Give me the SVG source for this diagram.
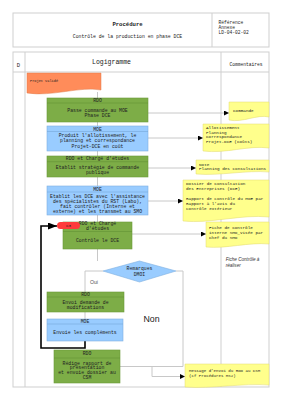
<svg xmlns="http://www.w3.org/2000/svg" width="283" height="400" viewBox="0 0 283 400">
<style>
.grid{fill:none;stroke:#cfcfcf;stroke-width:1}
.mono{font-family:"Liberation Mono","DejaVu Sans Mono",monospace;fill:#222}
.bt{font-size:4.8px;text-anchor:middle}
.ct{font-size:4.3px}
.g{fill:#7dad47;stroke:#6b9a3a;stroke-width:0.6}
.b{fill:#99ccff;stroke:#7fb0e0;stroke-width:0.6}
.sepg{stroke:#5f8c32;stroke-width:0.5}
.sepb{stroke:#6fa0d0;stroke-width:0.5}
.y{fill:#ffff8c;stroke:#e0d870;stroke-width:0.5}
.con{fill:none;stroke:#c8c8c8;stroke-width:1}
.loop{fill:none;stroke:#000;stroke-width:1.6}
.sans{font-family:"Liberation Sans",Arial,sans-serif}
</style>
<defs>
<marker id="ah" markerUnits="userSpaceOnUse" markerWidth="6" markerHeight="5" refX="5" refY="2.5" orient="auto"><path d="M0,0 L5,2.5 L0,5 Z" fill="#000"/></marker>
<marker id="ahb" markerUnits="userSpaceOnUse" markerWidth="10" markerHeight="7" refX="9" refY="3.5" orient="auto"><path d="M0,0 L9,3.5 L0,7 Z" fill="#000"/></marker>
</defs>
<rect width="283" height="400" fill="#fff"/>
<g id="header">
<rect class="grid" x="13" y="13" width="256" height="34"/>
<line class="grid" x1="212" y1="13" x2="212" y2="47"/>
<text class="mono" x="127.5" y="26" font-size="5.6" font-weight="bold" text-anchor="middle">Procédure</text>
<text class="mono" x="127.5" y="38" font-size="4.8" text-anchor="middle">Contrôle de la production en phase DCE</text>
<text class="mono" x="218.5" y="23.5" font-size="4.6">Référence</text>
<text class="mono" x="218.5" y="28.5" font-size="4.6">Annexe</text>
<text class="mono" x="218.5" y="33.5" font-size="4.6">LD-04-02-02</text>
</g>
<g id="table">
<rect class="grid" x="13" y="52" width="256" height="335"/>
<line class="grid" x1="25" y1="52" x2="25" y2="387"/>
<line class="grid" x1="221" y1="52" x2="221" y2="387"/>
<line class="grid" x1="13" y1="72" x2="269" y2="72"/>
<text class="mono" x="18.3" y="67" font-size="5.5" text-anchor="middle">D</text>
<text class="mono" x="111.5" y="64" font-size="6.5" text-anchor="middle">Logigramme</text>
<text class="mono" x="246" y="66" font-size="4.6" text-anchor="middle">Commentaires</text>
</g>
<g id="connectors">
<path class="con" d="M97.5,92 V98"/>
<path class="con" d="M97.5,122 V126"/>
<path class="con" d="M97.5,151 V156"/>
<path class="con" d="M97.5,177 V186"/>
<path class="con" d="M97.5,215 V222"/>
<path class="con" d="M97.5,249 V261"/>
<path class="con" d="M103,271 H85 V292"/>
<path class="con" d="M85,312 V319"/>
<path class="con" d="M176,271 H183 V366.5 H120"/>
<path class="con" d="M148,113 H229" marker-end="url(#ah)"/>
<path class="con" d="M148,138 H203" marker-end="url(#ah)"/>
<path class="con" d="M148,168 H196" marker-end="url(#ah)"/>
<path class="con" d="M148,201 H183" marker-end="url(#ah)"/>
<path class="con" d="M132,234 H206" marker-end="url(#ah)"/>
<path class="con" d="M120,366.5 H152 V376.5 H185" marker-end="url(#ah)"/>
<path class="loop" d="M85,341 V348 H41 V226 H57" marker-end="url(#ahb)"/>
<text class="sans" x="94" y="284" font-size="5.2" fill="#555" text-anchor="middle">Oui</text>
<text class="sans" x="151.5" y="322" font-size="8.8" fill="#222" text-anchor="middle">Non</text>
</g>
<g id="start">
<path d="M27,73 H101 V90 C80,86 52,97 27,93 Z" fill="#ff8c5a" stroke="#e07a48" stroke-width="0.5"/>
<text class="mono" x="30" y="82" font-size="3.6">Projet Validé</text>
</g>
<g id="n1">
<rect class="g" x="47" y="98" width="101" height="24"/>
<line class="sepg" x1="47" y1="103" x2="148" y2="103"/>
<text class="mono bt" x="97.5" y="102" font-size="4">RDO</text>
<text class="mono bt" x="97.5" y="111.5">Passe commande au MOE</text>
<text class="mono bt" x="97.5" y="117">Phase DCE</text>
</g>
<g id="n2">
<rect class="b" x="47" y="126" width="101" height="25"/>
<line class="sepb" x1="47" y1="131.5" x2="148" y2="131.5"/>
<text class="mono bt" x="97.5" y="130.5">MOE</text>
<text class="mono bt" x="97.5" y="136.5">Produit l'allotissement, le</text>
<text class="mono bt" x="97.5" y="142">planning et correspondance</text>
<text class="mono bt" x="97.5" y="147.5">Projet-DCE en coût</text>
</g>
<g id="n3">
<rect class="g" x="47" y="156" width="101" height="21"/>
<line class="sepg" x1="47" y1="161.7" x2="148" y2="161.7"/>
<text class="mono bt" x="97.5" y="160.3">RDO et Chargé d'études</text>
<text class="mono bt" x="97.5" y="169">Etablit stratégie de commande</text>
<text class="mono bt" x="97.5" y="174.3">publique</text>
</g>
<g id="n4">
<rect class="b" x="47" y="186" width="101" height="29"/>
<line class="sepb" x1="47" y1="192" x2="148" y2="192"/>
<text class="mono bt" x="97.5" y="190.8">MOE</text>
<text class="mono bt" x="97.5" y="197.5">Etablit les DCE avec l'assistance</text>
<text class="mono bt" x="97.5" y="202.5">des spécialistes du RST (Labo),</text>
<text class="mono bt" x="97.5" y="207.8">fait contrôler (Interne et</text>
<text class="mono bt" x="97.5" y="213.3">externe) et les transmet au SMO</text>
</g>
<g id="n5">
<rect class="g" x="63" y="222" width="69" height="27"/>
<line class="sepg" x1="63" y1="231.5" x2="132" y2="231.5"/>
<text class="mono bt" x="97.5" y="225">RDO et Chargé</text>
<text class="mono bt" x="97.5" y="230.3">d'études</text>
<text class="mono bt" x="97.5" y="242">Contrôle le DCE</text>
</g>
<g id="c3">
<rect x="57" y="222" width="23" height="7" rx="3.5" fill="#ff3b3b"/>
<text class="mono" x="68.5" y="227.2" font-size="4.2" text-anchor="middle" fill="#400">C3</text>
</g>
<g id="decision">
<polygon points="103,271 139.5,261 176,271 139.5,282" fill="#99ccff" stroke="#7fb0e0" stroke-width="0.6"/>
<text class="mono bt" x="139.5" y="269.5">Remarques</text>
<text class="mono bt" x="139.5" y="275.5">DMOI</text>
</g>
<g id="n6">
<rect class="g" x="47" y="292" width="77" height="20"/>
<line class="sepg" x1="47" y1="297" x2="124" y2="297"/>
<text class="mono bt" x="85.5" y="295.5" font-size="4">RDO</text>
<text class="mono bt" x="85.5" y="303.5">Envoi demande de</text>
<text class="mono bt" x="85.5" y="308.7">modifications</text>
</g>
<g id="n7">
<rect class="b" x="47" y="319" width="76" height="22"/>
<line class="sepb" x1="47" y1="324" x2="123" y2="324"/>
<text class="mono bt" x="85" y="322.8" font-size="4">MOE</text>
<text class="mono bt" x="85" y="334">Envoie les compléments</text>
</g>
<g id="n8">
<rect class="g" x="54" y="350" width="66" height="33"/>
<line class="sepg" x1="54" y1="358" x2="120" y2="358"/>
<text class="mono bt" x="87" y="355" font-size="4">RDO</text>
<text class="mono bt" x="87" y="364.8">Rédige rapport de</text>
<text class="mono bt" x="87" y="369.4">présentation</text>
<text class="mono bt" x="87" y="374.2">et envoie dossier au</text>
<text class="mono bt" x="87" y="379.2">CSM</text>
</g>
<g id="k1">
<path class="y" d="M229,102 H269 V117 C257,114 243,123 229,120 Z"/>
<text class="mono ct" x="233" y="112.2">Commande</text>
</g>
<g id="k2">
<path class="y" d="M203,124 H269 V148 C248,145 226,154 203,151 Z"/>
<text class="mono ct" x="206" y="129.2">Allotissement</text>
<text class="mono ct" x="206" y="133.8">Planning</text>
<text class="mono ct" x="206" y="138.4">Correspondance</text>
<text class="mono ct" x="206" y="143">Projet-DCE (Coûts)</text>
</g>
<g id="k3">
<path class="y" d="M196,160 H269 V172 C246,170 220,176 196,174 Z"/>
<text class="mono ct" x="199" y="165.5">Note</text>
<text class="mono ct" x="199" y="170">Planning des consultations</text>
</g>
<g id="k4">
<path class="y" d="M183,180 H269 V217 C242,214 210,224 183,221 Z"/>
<text class="mono ct" x="186" y="185.4">Dossier de Consultation</text>
<text class="mono ct" x="186" y="190.2">des Entreprises (DCE)</text>
<text class="mono ct" x="186" y="200.4">Rapport de contrôle du MOE par</text>
<text class="mono ct" x="186" y="205.2">Rapport à l'avis du</text>
<text class="mono ct" x="186" y="210">contrôle extérieur</text>
</g>
<g id="k5">
<path class="y" d="M206,222 H269 V244 C249,242 226,249 206,247 Z"/>
<text class="mono ct" x="209" y="228.7">Fiche de Contrôle</text>
<text class="mono ct" x="209" y="233.7">interne SMO_visée par</text>
<text class="mono ct" x="209" y="238.7">Chef du SMO</text>
</g>
<g id="k6">
<text class="sans" x="225.7" y="260.5" font-size="4.6" font-style="italic" fill="#333">Fiche Contrôle à</text>
<text class="sans" x="225.7" y="266.5" font-size="4.6" font-style="italic" fill="#333">réaliser</text>
</g>
<g id="k7">
<path class="y" d="M185,364 H269 V385 C243,383 211,389 185,387 Z"/>
<text class="mono" x="189" y="372.4" font-size="4.1">Message d'envoi du RDO au CSM</text>
<text class="mono" x="189" y="377" font-size="4.1">(cf Procédures MS2)</text>
</g>
</svg>
